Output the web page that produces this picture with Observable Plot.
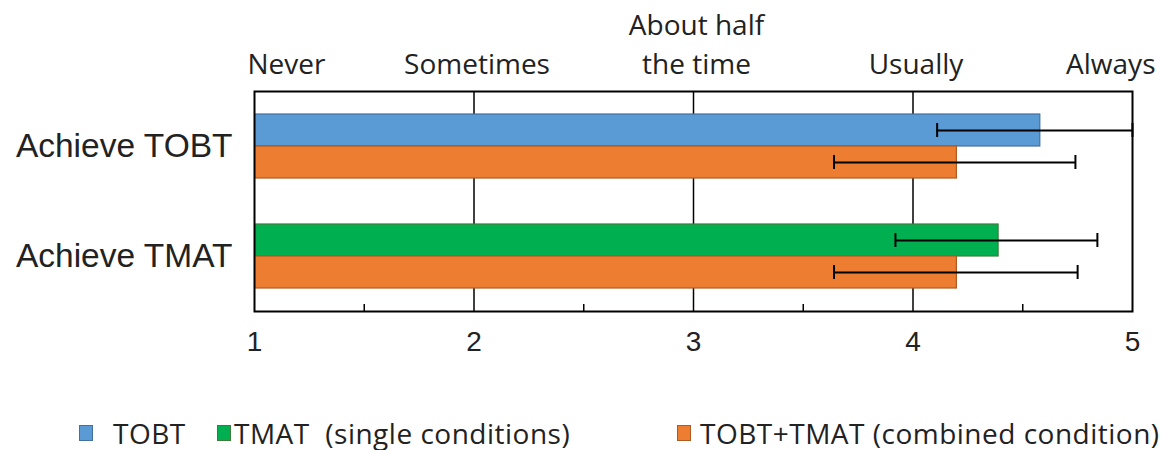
<!DOCTYPE html>
<html><head><meta charset="utf-8">
<script src="https://cdn.jsdelivr.net/npm/d3@7"></script>
<script src="https://cdn.jsdelivr.net/npm/@observablehq/plot@0.6"></script>
<style>
body{margin:0;background:#fff;overflow:hidden;}
#legend{position:relative;height:60px;width:1162px;font-family:"Open Sans",sans-serif;font-size:28px;letter-spacing:0.5px;color:#222;}
.item{position:absolute;top:31px;height:24px;line-height:24px;display:flex;align-items:center;white-space:pre;}
.sw{display:inline-block;width:14px;height:16px;box-sizing:border-box;border:1.5px solid;}
</style></head><body><div id="chart"></div><div id="legend"></div>
<script>
const categories = ["Achieve TOBT", "Achieve TMAT"];
const singleSeries = ["TOBT", "TMAT"];
const singleMean = [4.58, 4.39];
const singleLow = [4.11, 3.92];
const singleHigh = [5.0, 4.84];
const combinedSeries = "TOBT+TMAT";
const combinedMean = [4.20, 4.20];
const combinedLow = [3.64, 3.64];
const combinedHigh = [4.74, 4.75];
const xTicks = [1, 2, 3, 4, 5];
const minorTicks = [1.5, 2.5, 3.5, 4.5];
const frequencyLabels = ["Never", "Sometimes", "About half\nthe time", "Usually", "Always"];
const legendLabels = ["TOBT", "TMAT  (single conditions)", "TOBT+TMAT (combined condition)"];

const fills = {"TOBT": "#5b9bd5", "TMAT": "#00b050", "TOBT+TMAT": "#ed7d31"};
const strokes = {"TOBT": "#41719c", "TMAT": "#3c7d3c", "TOBT+TMAT": "#ae5a21"};

const single = categories.map((c, i) => ({cat: c, series: singleSeries[i], mean: singleMean[i], low: singleLow[i], high: singleHigh[i]}));
const combined = categories.map((c, i) => ({cat: c, series: combinedSeries, mean: combinedMean[i], low: combinedLow[i], high: combinedHigh[i]}));
const topLabels = xTicks.map((x, i) => ({x, label: frequencyLabels[i]}));

const errStyle = {stroke: "#000", strokeWidth: 2};
const topText = {text: "label", frameAnchor: "top", lineAnchor: "bottom", dy: -18, fontSize: 28, fontFamily: "Open Sans", lineHeight: 1.38, fill: "#222"};

const chart = Plot.plot({
  width: 1162, height: 390,
  marginLeft: 254, marginRight: 30, marginTop: 91, marginBottom: 79,
  style: {background: "#fff", color: "#222", fontFamily: "Liberation Sans, Arial, sans-serif", overflow: "visible"},
  x: {domain: [1, 5], axis: null},
  y: {domain: categories, paddingInner: 0.418, paddingOuter: 0.209, axis: null},
  color: {type: "identity"},
  marks: [
    Plot.gridX(xTicks.slice(1, -1), {stroke: "#000", strokeOpacity: 1, strokeWidth: 1.5}),
    Plot.barX(single, {x: "mean", y: "cat", fill: d => fills[d.series], stroke: d => strokes[d.series], strokeWidth: 1.2, insetBottom: 32, clip: true}),
    Plot.barX(combined, {x: "mean", y: "cat", fill: d => fills[d.series], stroke: d => strokes[d.series], strokeWidth: 1.2, insetTop: 32, clip: true}),
    Plot.ruleY(single, {y: "cat", x1: "low", x2: "high", dy: -16, ...errStyle}),
    Plot.ruleY(combined, {y: "cat", x1: "low", x2: "high", dy: 16, ...errStyle}),
    Plot.tickX(single, {x: "low", y: "cat", insetTop: 9, insetBottom: 41, ...errStyle}),
    Plot.tickX(single, {x: "high", y: "cat", insetTop: 9, insetBottom: 41, ...errStyle}),
    Plot.tickX(combined, {x: "low", y: "cat", insetTop: 41, insetBottom: 9, ...errStyle}),
    Plot.tickX(combined, {x: "high", y: "cat", insetTop: 41, insetBottom: 9, ...errStyle}),
    Plot.frame({stroke: "#000", strokeWidth: 2}),
    Plot.tickX(minorTicks, {x: d => d, insetTop: 213, stroke: "#000", strokeWidth: 1.5}),
    Plot.axisY({tickSize: 0, tickPadding: 22, fontSize: 33.5, label: null}),
    Plot.axisX({anchor: "bottom", ticks: xTicks, tickFormat: d3.format("d"), tickSize: 0, tickPadding: 20, fontSize: 28, label: null}),
    Plot.text(topLabels.slice(0, 1), {x: "x", textAnchor: "start", dx: -7, ...topText}),
    Plot.text(topLabels.slice(1, -1), {x: "x", textAnchor: "middle", dx: 3, ...topText}),
    Plot.text(topLabels.slice(-1), {x: "x", textAnchor: "end", dx: 23, ...topText})
  ]
});
document.getElementById("chart").appendChild(chart);

const legendSeries = ["TOBT", "TMAT", "TOBT+TMAT"];
const legendPos = [[79, 113], [217, 234], [677, 700]];
const legend = document.getElementById("legend");
legendSeries.forEach((s, i) => {
  const sw = document.createElement("div");
  sw.className = "item";
  sw.style.left = legendPos[i][0] + "px";
  sw.innerHTML = `<span class="sw" style="background:${fills[s]};border-color:${strokes[s]}"></span>`;
  legend.appendChild(sw);
  const t = document.createElement("div");
  t.className = "item";
  t.style.left = legendPos[i][1] + "px";
  t.textContent = legendLabels[i];
  legend.appendChild(t);
});
</script></body></html>
